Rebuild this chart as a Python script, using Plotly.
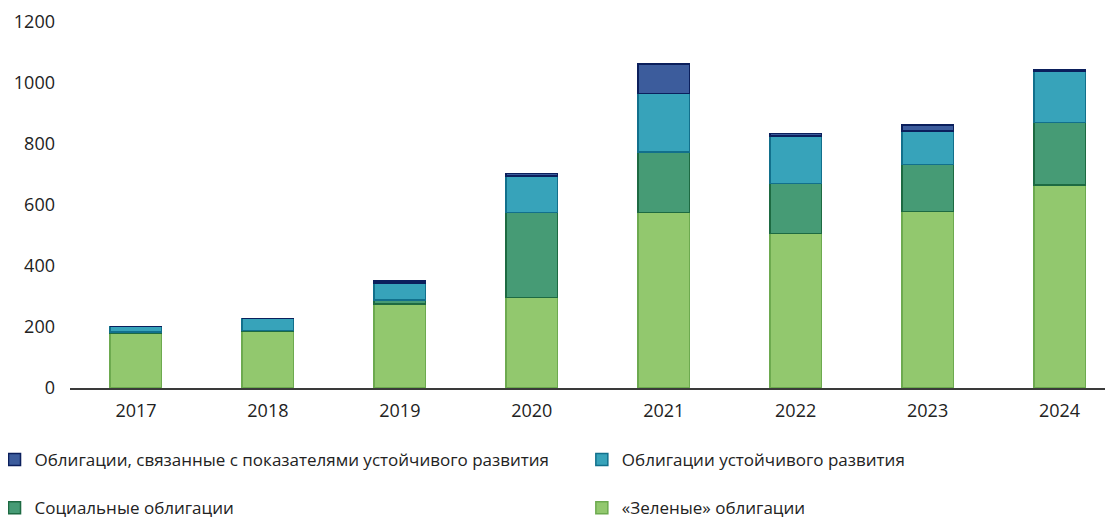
import plotly.graph_objects as go

years = ["2017", "2018", "2019", "2020", "2021", "2022", "2023", "2024"]

green_bonds = [180, 185, 275, 297, 575, 507, 579, 666]
social_bonds = [3, 3, 13, 278, 198, 164, 154, 204]
sustainability_bonds = [18, 40, 56, 120, 193, 155, 110, 170]
sll_bonds = [0, 0, 7, 9, 96, 9, 20, 5]

names = [
    "«Зеленые» облигации",
    "Социальные облигации",
    "Облигации устойчивого развития",
    "Облигации, связанные с показателями устойчивого развития",
]
fills = ["#92C86E", "#469B75", "#37A3BA", "#3C5C9C"]
edges = ["#6DAA4F", "#1D6A42", "#12708C", "#0B1F5C"]
legends = ["legend2", "legend", "legend2", "legend"]
ranks = [4, 3, 2, 1]

fig = go.Figure()
for i, vals in enumerate([green_bonds, social_bonds, sustainability_bonds, sll_bonds]):
    fig.add_trace(go.Bar(
        x=years,
        y=vals,
        name=names[i],
        legendgroup=f"g{i}",
        legendrank=ranks[i],
        legend=legends[i],
        marker=dict(color=fills[i], line=dict(color=edges[i], width=1.5)),
    ))

font = dict(family="Open Sans, sans-serif", size=17, color="#222222")
tick_font = dict(family="Open Sans, sans-serif", size=18, color="#222222")
leg_common = dict(
    orientation="v",
    traceorder="grouped",
    tracegroupgap=23,
    yanchor="middle",
    xanchor="left",
    yref="container",
    xref="paper",
    y=0.0864,
    font=font,
    bgcolor="rgba(0,0,0,0)",
)

# page body has an 8px margin, so the figure is drawn 8px right/down
fig.update_layout(
    barmode="stack",
    bargap=0.61,
    width=1113,
    height=521,
    margin=dict(l=61.5, r=0, t=14, b=141, autoexpand=False),
    plot_bgcolor="white",
    paper_bgcolor="white",
    font=font,
    xaxis=dict(
        range=[-0.5, 7.466],
        showline=True,
        linecolor="#3a3a3a",
        linewidth=1.5,
        ticks="",
        showgrid=False,
        tickfont=tick_font,
        ticklabelstandoff=6,
    ),
    yaxis=dict(
        range=[0, 1200],
        tickvals=[0, 200, 400, 600, 800, 1000, 1200],
        showgrid=False,
        zeroline=False,
        showline=False,
        tickfont=tick_font,
        ticklabelstandoff=14,
    ),
    legend=dict(x=-0.0718, **leg_common),
    legend2=dict(x=0.487, **leg_common),
)

fig.write_html("out.html")
